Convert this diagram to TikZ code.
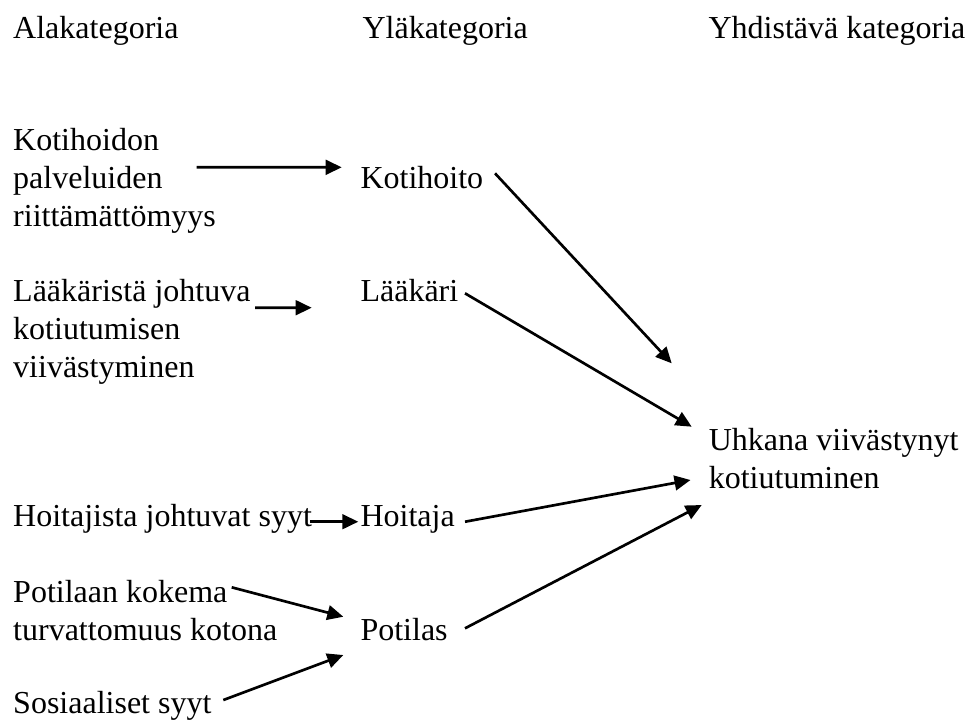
\documentclass[tikz,border=0pt]{standalone}
\usepackage{fontspec}
\setmainfont{Liberation Serif}
\usetikzlibrary{calc}
\usetikzlibrary{arrows.meta}

\begin{document}
\begin{tikzpicture}[x=0.375pt, y=-0.375pt,
  txt/.style={anchor=base west, inner sep=0pt, align=left, font=\fontsize{12pt}{14.1pt}\selectfont},
  arr/.style={black, line width=1pt, -{Triangle[length=6pt,width=5.5pt]}}]
\useasboundingbox (0,0) rectangle (971,724);
% otsikot
\node[txt] (alakat) at (12.7,38) {Alakategoria};
\node[txt] (ylakat) at (362,38) {Yläkategoria};
\node[txt] (yhdkat) at (708,38) {Yhdistävä kategoria};
% alakategoriat (base = viimeinen rivi)
\node[txt] (kotihoidon) at (12.7,226) {Kotihoidon\\palveluiden\\riittämättömyys};
\node[txt] (laakarista) at (12.7,377) {Lääkäristä johtuva\\kotiutumisen\\viivästyminen};
\node[txt] (hoitajista) at (12.7,526.7) {Hoitajista johtuvat syyt};
\node[txt] (potilaan) at (12.7,640) {Potilaan kokema\\turvattomuus kotona};
\node[txt] (sosiaaliset) at (12.7,713) {Sosiaaliset syyt};
% yläkategoriat
\node[txt] (kotihoito) at (360,188.3) {Kotihoito};
\node[txt] (laakari) at (360,301.7) {Lääkäri};
\node[txt] (hoitaja) at (360,526.7) {Hoitaja};
\node[txt] (potilas) at (360,640) {Potilas};
% yhdistävä
\node[txt] (uhkana) at (708.3,488.3) {Uhkana viivästynyt\\kotiutuminen};

\draw[arr] ($(kotihoidon.base west)+(184,-58.7)$) -- ($(kotihoito.base west)+(-18.3,-21)$);
\draw[arr] ($(laakarista.base west)+(242.3,-69.3)$) -- ($(laakari.base west)+(-48.3,6)$);
\draw[arr] ($(hoitajista.base west)+(297.3,-5)$) -- ($(hoitaja.base west)+(-1.7,-5)$);
\draw[arr] ($(potilaan.base west)+(219,-52.7)$) -- ($(potilas.base west)+(-16.7,-23.3)$);
\draw[arr] ($(sosiaaliset.base west)+(210.6,-13)$) -- ($(potilas.base west)+(-16.7,15)$);

\draw[arr] ($(kotihoito.base west)+(135,-15)$) -- ($(uhkana.base west)+(-36.6,-125)$);
\draw[arr] ($(laakari.base west)+(105,-8.4)$) -- ($(uhkana.base west)+(-16.6,-61.6)$);
\draw[arr] ($(hoitaja.base west)+(105,-5)$) -- ($(uhkana.base west)+(-17.8,-8.3)$);
\draw[arr] ($(potilas.base west)+(105,-11.7)$) -- ($(uhkana.base west)+(-6.6,16.7)$);

\end{tikzpicture}
\end{document}
